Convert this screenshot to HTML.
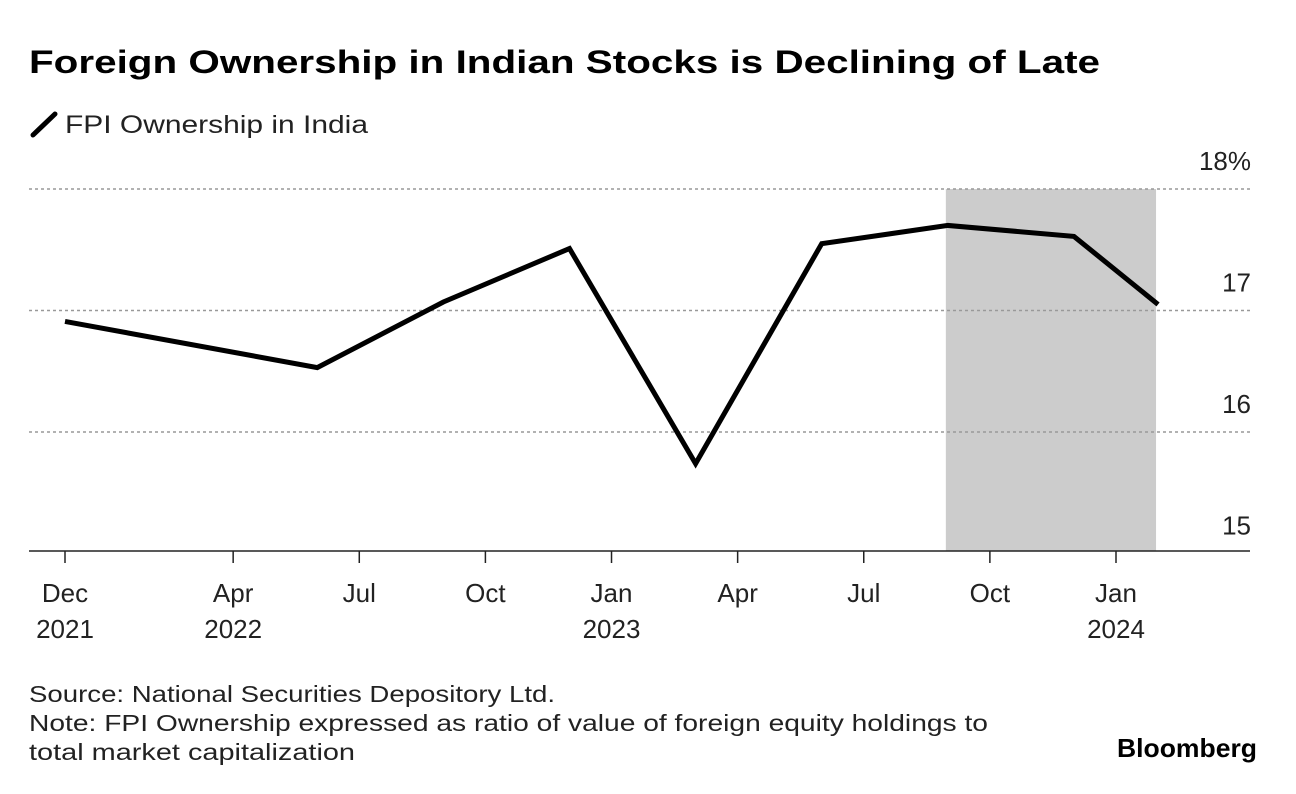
<!DOCTYPE html>
<html><head><meta charset="utf-8"><style>
body{margin:0;background:#fff;font-family:"Liberation Sans",sans-serif;}
svg{display:block}
</style></head><body>
<svg width="1296" height="794" xmlns="http://www.w3.org/2000/svg">
<text x="29" y="73" font-size="32" font-weight="bold" fill="#000" textLength="1071" lengthAdjust="spacingAndGlyphs">Foreign Ownership in Indian Stocks is Declining of Late</text>
<g>
<line x1="33" y1="135" x2="55" y2="114" stroke="#000" stroke-width="5" stroke-linecap="round"/>
<text x="65" y="133" font-size="25" fill="#222" textLength="303" lengthAdjust="spacingAndGlyphs">FPI Ownership in India</text>
</g>
<g id="plot"></g>
<text x="29" y="702" font-size="23" fill="#222" textLength="526" lengthAdjust="spacingAndGlyphs">Source: National Securities Depository Ltd.</text>
<text x="29" y="731" font-size="23" fill="#222" textLength="959" lengthAdjust="spacingAndGlyphs">Note: FPI Ownership expressed as ratio of value of foreign equity holdings to</text>
<text x="29" y="760" font-size="23" fill="#222" textLength="326" lengthAdjust="spacingAndGlyphs">total market capitalization</text>
<text x="1117" y="757" font-size="26" font-weight="bold" fill="#000" textLength="140" lengthAdjust="spacingAndGlyphs">Bloomberg</text>
</svg>
<script>
const months = [0, 6, 9, 12, 15, 18, 21, 24, 26];
const values = [16.91, 16.53, 17.07, 17.51, 15.74, 17.55, 17.70, 17.61, 17.05];
const yTicks = [18, 17, 16, 15];
const yTickLabels = ['18%', '17', '16', '15'];
const xTickMonths = [0, 4, 7, 10, 13, 16, 19, 22, 25];
const xTickTop = ['Dec', 'Apr', 'Jul', 'Oct', 'Jan', 'Apr', 'Jul', 'Oct', 'Jan'];
const xTickBottom = ['2021', '2022', '', '', '2023', '', '', '', '2024'];
const shadeRange = [21, 26];

const NS = 'http://www.w3.org/2000/svg';
const g = document.getElementById('plot');
const X = m => 65 + m * 42.04;
const Y = v => 189 + (18 - v) * 121.5;
function mk(tag, attrs, parent) {
  const e = document.createElementNS(NS, tag);
  for (const k in attrs) e.setAttribute(k, attrs[k]);
  (parent || g).appendChild(e);
  return e;
}
const sh = mk('rect', {x: X(shadeRange[0]) - 2, y: Y(18), width: X(shadeRange[1]) - X(shadeRange[0]), height: 551 - Y(18), fill: '#cccccc'});


yTicks.forEach((v, i) => {
  if (v > 15) {
    const l = mk('line', {x1: 29, x2: 1250, y1: Y(v), y2: Y(v), stroke: '#999', 'stroke-width': 1.5, 'stroke-dasharray': '3,3'});
    
    
  }
  const t = mk('text', {x: 1251, y: Y(v) - 19, 'font-size': 26, 'text-anchor': 'end', fill: '#222'});
  t.textContent = yTickLabels[i];
  
  
});
const base = mk('line', {x1: 29, x2: 1250, y1: 551, y2: 551, stroke: '#222', 'stroke-width': 1.5});


xTickMonths.forEach((m, i) => {
  const tk = mk('line', {x1: X(m), x2: X(m), y1: 551, y2: 563, stroke: '#222', 'stroke-width': 1.5});
  
  
  const t = mk('text', {x: X(m), y: 602, 'font-size': 26, 'text-anchor': 'middle', fill: '#222'});
  t.textContent = xTickTop[i];
  
  
  if (xTickBottom[i]) {
    const t2 = mk('text', {x: X(m), y: 638, 'font-size': 26, 'text-anchor': 'middle', fill: '#222'});
    t2.textContent = xTickBottom[i];
    
    
  }
});
const line = mk('polyline', {points: months.map((m, i) => X(m) + ',' + Y(values[i])).join(' '), fill: 'none', stroke: '#000', 'stroke-width': 5, 'stroke-linejoin': 'miter'});


</script>
</body></html>
